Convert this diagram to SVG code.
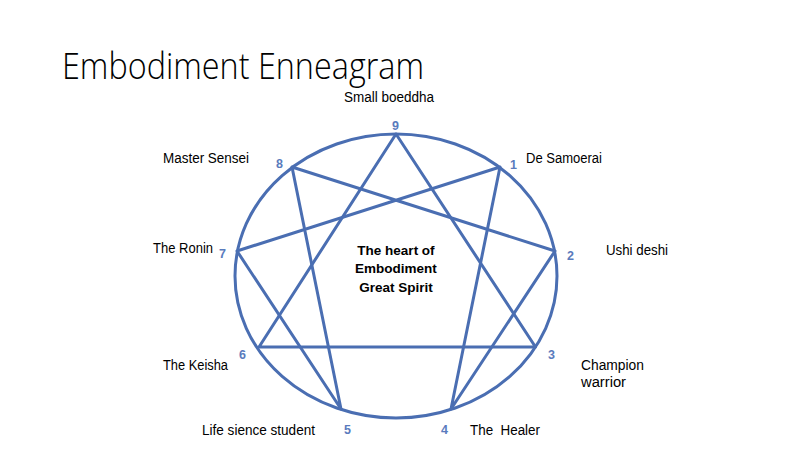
<svg xmlns="http://www.w3.org/2000/svg" width="800" height="450" viewBox="0 0 800 450">
<style>
.lbl{font-family:"Liberation Sans",Arial,sans-serif;font-size:14px;fill:#000}
.num{font-family:"Liberation Sans",Arial,sans-serif;font-size:12.5px;font-weight:bold;fill:#5a7bbd}
.ctr{font-family:"Liberation Sans",Arial,sans-serif;font-size:13.5px;font-weight:bold;fill:#000;text-anchor:middle}
.ln{stroke:#4a6eb2;stroke-width:3;fill:none;stroke-linejoin:round}
</style>
<rect width="800" height="450" fill="#fff"/>
<text x="62" y="79" font-family="'Open Sans','Liberation Sans',sans-serif" font-weight="300" font-size="36" fill="#000" textLength="362" lengthAdjust="spacingAndGlyphs">Embodiment Enneagram</text>
<g id="circle"><ellipse class="ln" cx="396" cy="276" rx="161" ry="142"/></g>
<g id="connectors">
<polygon class="ln" points="396,134 535.5,347 259,347"/>
<polygon class="ln" points="500,167 451,409 555,251 292,167 341,409 237,251"/>
</g>
<g id="center"><text class="ctr" x="396" y="255">The heart of</text><text class="ctr" x="396" y="273">Embodiment</text><text class="ctr" x="396" y="292">Great Spirit</text></g>
<g id="p9"><text class="num" x="392" y="130">9</text><text class="lbl" x="344" y="102" textLength="90" lengthAdjust="spacingAndGlyphs">Small boeddha</text></g>
<g id="p1"><text class="num" x="510" y="169">1</text><text class="lbl" x="526" y="163" textLength="76" lengthAdjust="spacingAndGlyphs">De Samoerai</text></g>
<g id="p2"><text class="num" x="567" y="260">2</text><text class="lbl" x="606" y="255" textLength="62" lengthAdjust="spacingAndGlyphs">Ushi deshi</text></g>
<g id="p3"><text class="num" x="548" y="359">3</text><text class="lbl" x="581" y="370" textLength="63" lengthAdjust="spacingAndGlyphs">Champion</text><text class="lbl" x="581" y="387" textLength="45" lengthAdjust="spacingAndGlyphs">warrior</text></g>
<g id="p4"><text class="num" x="441" y="434">4</text><text class="lbl" x="470" y="435" xml:space="preserve" textLength="70" lengthAdjust="spacingAndGlyphs">The  Healer</text></g>
<g id="p5"><text class="num" x="344" y="434">5</text><text class="lbl" x="202" y="435" textLength="113" lengthAdjust="spacingAndGlyphs">Life sience student</text></g>
<g id="p6"><text class="num" x="239" y="359">6</text><text class="lbl" x="163" y="370" textLength="65" lengthAdjust="spacingAndGlyphs">The Keisha</text></g>
<g id="p7"><text class="num" x="219" y="258">7</text><text class="lbl" x="153" y="253" textLength="60" lengthAdjust="spacingAndGlyphs">The Ronin</text></g>
<g id="p8"><text class="num" x="276" y="168">8</text><text class="lbl" x="163" y="163" textLength="86" lengthAdjust="spacingAndGlyphs">Master Sensei</text></g>
</svg>
